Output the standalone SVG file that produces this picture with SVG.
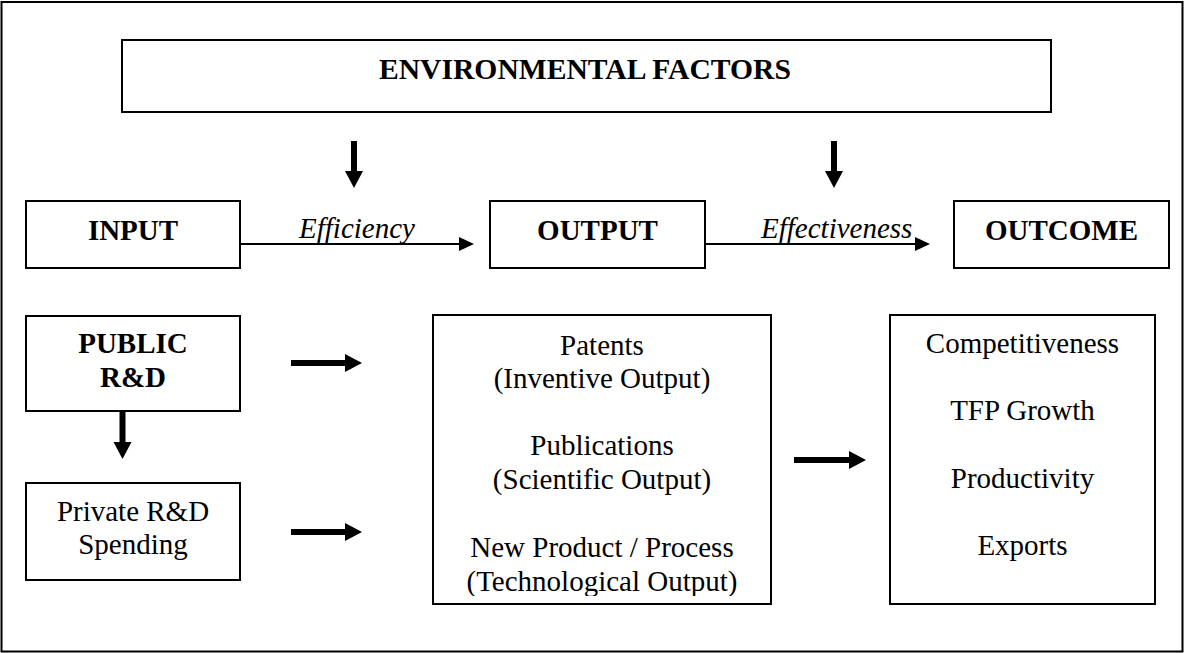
<svg xmlns="http://www.w3.org/2000/svg" width="1184" height="653" viewBox="0 0 1184 653">
  <defs>
    <marker id="thick" markerUnits="userSpaceOnUse" markerWidth="18" markerHeight="20" refX="0" refY="9" orient="auto" viewBox="0 0 18 18" overflow="visible">
      <path d="M0,0 L17,9 L0,18 Z" fill="#000"/>
    </marker>
    <marker id="thin" markerUnits="userSpaceOnUse" markerWidth="16" markerHeight="14" refX="0" refY="7" orient="auto" viewBox="0 0 16 14" overflow="visible">
      <path d="M0,0 L15,7 L0,14 Z" fill="#000"/>
    </marker>
    <clipPath id="outclip">
      <rect x="433" y="315" width="338" height="281"/>
    </clipPath>
  </defs>
  <style>
    .box { fill: #fff; stroke: #000; stroke-width: 2; }
    .t { font-family: "Liberation Serif", "Times New Roman", serif; font-size: 29px; fill: #000; }
    .b { font-weight: bold; }
    .i { font-style: italic; }
    .c { text-anchor: middle; }
    .thick { stroke: #000; stroke-width: 6; fill: none; marker-end: url(#thick); }
    .thin { stroke: #000; stroke-width: 2; fill: none; marker-end: url(#thin); }
  </style>
  <rect x="0" y="0" width="1184" height="653" fill="#fff"/>
  <rect x="1.5" y="2" width="1181" height="649.5" fill="none" stroke="#000" stroke-width="2"/>

  <g id="env">
    <rect class="box" x="122" y="40" width="929" height="72"/>
    <text class="t b" x="379" y="79" style="font-size:29.6px">ENVIRONMENTAL FACTORS</text>
  </g>
  <g id="input">
    <rect class="box" x="26" y="201" width="214" height="67"/>
    <text class="t b c" x="133" y="240">INPUT</text>
  </g>
  <g id="output">
    <rect class="box" x="490" y="201" width="215" height="67"/>
    <text class="t b c" x="597.5" y="240">OUTPUT</text>
  </g>
  <g id="outcome">
    <rect class="box" x="954" y="201" width="215" height="67"/>
    <text class="t b c" x="1061.5" y="240">OUTCOME</text>
  </g>
  <g id="public">
    <rect class="box" x="26" y="316" width="214" height="95"/>
    <text class="t b c" x="133" y="353">PUBLIC</text>
    <text class="t b c" x="133" y="387">R&amp;D</text>
  </g>
  <g id="private">
    <rect class="box" x="26" y="483" width="214" height="97"/>
    <text class="t c" x="133" y="521">Private R&amp;D</text>
    <text class="t c" x="133" y="554">Spending</text>
  </g>
  <g id="outputs">
    <rect class="box" x="433" y="315" width="338" height="289"/>
    <g clip-path="url(#outclip)">
      <text class="t c" x="602" y="355">Patents</text>
      <text class="t c" x="602" y="388">(Inventive Output)</text>
      <text class="t c" x="602" y="455">Publications</text>
      <text class="t c" x="602" y="489">(Scientific Output)</text>
      <text class="t c" x="602" y="557">New Product / Process</text>
      <text class="t c" x="602" y="591">(Technological Output)</text>
    </g>
  </g>
  <g id="outcomes">
    <rect class="box" x="890" y="315" width="265" height="289"/>
    <text class="t c" x="1022.5" y="353">Competitiveness</text>
    <text class="t c" x="1022.5" y="420">TFP Growth</text>
    <text class="t c" x="1022.5" y="488">Productivity</text>
    <text class="t c" x="1022.5" y="555">Exports</text>
  </g>

  <g id="connectors">
    <line class="thick" x1="354" y1="141" x2="354" y2="171"/>
    <line class="thick" x1="834" y1="141" x2="834" y2="171"/>
    <line class="thin" x1="240" y1="244" x2="459" y2="244"/>
    <text class="t i" x="299" y="238">Efficiency</text>
    <line class="thin" x1="705" y1="244" x2="915" y2="244"/>
    <text class="t i" x="761" y="238">Effectiveness</text>
    <line class="thick" x1="122.5" y1="411" x2="122.5" y2="442"/>
    <line class="thick" x1="291" y1="363" x2="345" y2="363"/>
    <line class="thick" x1="291" y1="532" x2="345" y2="532"/>
    <line class="thick" x1="794" y1="460" x2="849" y2="460"/>
  </g>
</svg>
